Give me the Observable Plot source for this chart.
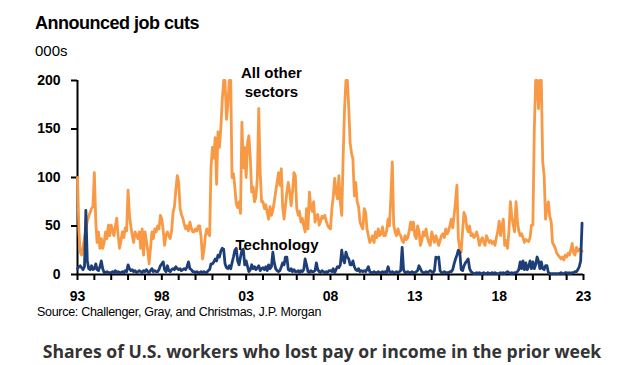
<!DOCTYPE html>
<html><head><meta charset="utf-8">
<script src="https://cdn.jsdelivr.net/npm/d3@7"></script>
<script src="https://cdn.jsdelivr.net/npm/@observablehq/plot@0.6"></script>
<style>
html,body{margin:0;padding:0;background:#fff;}
body{width:644px;height:365px;position:relative;overflow:hidden;font-family:"Liberation Sans",Arial,sans-serif;color:#000;}
#title{position:absolute;left:35px;top:13px;font-weight:bold;font-size:18px;letter-spacing:-0.5px;white-space:nowrap;}
#unit{position:absolute;left:35px;top:42px;font-size:15px;white-space:nowrap;}
#chart{position:absolute;left:0;top:60px;}
#source{position:absolute;left:37px;top:305px;font-size:12.5px;letter-spacing:-0.3px;white-space:nowrap;}
#bottom{position:absolute;left:0;width:644px;text-align:center;top:339px;font-family:"Open Sans",sans-serif;font-weight:700;font-size:17.6px;color:#333;white-space:nowrap;}
</style>
</head><body>
<div id="title">Announced job cuts</div>
<div id="unit">000s</div>
<div id="chart"></div>
<div id="source">Source: Challenger, Gray, and Christmas, J.P. Morgan</div>
<div id="bottom">Shares of U.S. workers who lost pay or income in the prior week</div>
<script>
// Monthly values, thousands, Jan 1993 - Dec 2022 (one row per year)
const startYear = 1993;
const allOtherSectors = [
  100, 45, 23, 20, 28, 38, 47, 55, 60, 64, 68, 70,
  105, 55, 33, 44, 27, 37, 27, 33, 44, 37, 51, 40,
  51, 45, 40, 50, 58, 40, 27, 35, 44, 38, 48, 45,
  87, 61, 50, 40, 33, 44, 40, 37, 44, 27, 47, 20,
  44, 35, 25, 11, 27, 44, 37, 47, 44, 50, 47, 61,
  57, 45, 30, 40, 44, 40, 37, 45, 64, 70, 87, 102,
  95, 68, 62, 58, 52, 47, 50, 45, 54, 48, 44, 44,
  47, 45, 50, 50, 38, 16, 25, 40, 47, 42, 40, 110,
  131, 120, 141, 93, 147, 131, 150, 179, 250, 215, 160, 175,
  210, 205, 100, 104, 90, 73, 69, 75, 63, 157, 110, 131,
  100, 136, 143, 120, 85, 90, 75, 80, 100, 171, 105, 75,
  75, 68, 72, 64, 57, 70, 61, 66, 75, 85, 95, 105,
  92, 109, 70, 57, 71, 85, 95, 85, 71, 85, 105, 102,
  68, 61, 65, 54, 58, 50, 44, 68, 47, 85, 70, 65,
  75, 54, 60, 62, 51, 55, 60, 58, 61, 55, 51, 48,
  47, 68, 80, 99, 85, 78, 102, 75, 61, 120, 171, 205,
  210, 171, 136, 125, 119, 81, 95, 75, 70, 54, 50, 47,
  68, 64, 47, 40, 33, 36, 40, 33, 44, 38, 47, 40,
  42, 49, 40, 40, 45, 57, 50, 80, 116, 51, 44, 40,
  47, 42, 40, 35, 33, 40, 36, 38, 45, 54, 46, 54,
  40, 37, 50, 45, 30, 35, 44, 40, 47, 38, 33, 30,
  44, 38, 33, 40, 36, 30, 35, 40, 42, 38, 47, 42,
  45, 51, 57, 48, 61, 75, 92, 37, 27, 23, 45, 64,
  60, 48, 44, 50, 40, 42, 38, 40, 44, 38, 30, 35,
  38, 33, 30, 40, 36, 33, 35, 32, 34, 30, 38, 44,
  55, 40, 50, 57, 30, 35, 27, 45, 75, 60, 51, 44,
  75, 55, 45, 40, 42, 38, 33, 36, 35, 34, 38, 51,
  51, 150, 230, 220, 171, 230, 210, 116, 102, 57, 68, 75,
  60, 54, 33, 30, 27, 22, 20, 18, 16, 18, 15, 20,
  18, 22, 20, 25, 32, 22, 20, 28, 24, 26, 25, 24
];
const technology = [
  6, 8, 9, 7, 5, 8, 66, 14, 6, 5, 9, 5,
  6, 11, 5, 4, 8, 14, 6, 2, 2, 3, 2, 2,
  2, 3, 2, 4, 2, 3, 2, 2, 3, 2, 4, 3,
  10, 6, 4, 5, 3, 4, 2, 3, 4, 3, 2, 4,
  3, 5, 3, 2, 4, 6, 3, 4, 3, 3, 5, 9,
  11, 13, 5, 3, 9, 4, 3, 5, 6, 5, 8, 6,
  5, 6, 4, 5, 6, 5, 8, 13, 6, 5, 3, 3,
  2, 3, 2, 2, 3, 2, 3, 2, 2, 4, 5, 11,
  11, 13, 16, 14, 20, 18, 24, 27, 26, 11, 7, 6,
  9, 6, 12, 18, 25, 27, 14, 10, 18, 25, 26, 10,
  14, 8, 3, 5, 10, 6, 8, 5, 7, 9, 4, 6,
  7, 5, 8, 4, 10, 6, 8, 23, 12, 6, 4, 3,
  4, 8, 12, 10, 18, 18, 5, 4, 6, 3, 5, 3,
  3, 4, 2, 4, 3, 5, 16, 10, 3, 2, 4, 3,
  3, 4, 12, 5, 3, 2, 4, 3, 2, 3, 2, 4,
  4, 3, 6, 2, 5, 8, 7, 10, 25, 15, 12, 23,
  18, 16, 10, 10, 14, 8, 5, 4, 6, 3, 4, 3,
  4, 3, 5, 8, 3, 2, 2, 3, 2, 2, 3, 2,
  2, 3, 2, 3, 2, 8, 3, 2, 3, 2, 2, 3,
  2, 3, 4, 28, 5, 2, 2, 3, 2, 2, 3, 2,
  2, 3, 4, 9, 6, 3, 2, 2, 3, 2, 3, 4,
  3, 2, 4, 18, 17, 18, 4, 2, 2, 3, 2, 2,
  2, 3, 3, 5, 11, 16, 20, 25, 23, 5, 4, 9,
  12, 14, 16, 6, 3, 2, 1, 1, 2, 1, 2, 1,
  1, 2, 1, 1, 2, 1, 1, 2, 1, 2, 1, 1,
  1, 2, 1, 2, 1, 2, 3, 2, 1, 2, 1, 2,
  2, 3, 5, 13, 6, 14, 5, 12, 5, 8, 14, 6,
  13, 6, 10, 18, 14, 6, 13, 6, 5, 9, 9, 2,
  1, 1, 1, 1, 1, 1, 1, 1, 2, 1, 1, 2,
  2, 1, 2, 1, 2, 2, 3, 3, 5, 8, 14, 53
];
const yTicks = [0, 50, 100, 150, 200];
const xLabelYears = [1993, 1998, 2003, 2008, 2013, 2018, 2023];
const seriesLabels = ["All other\nsectors", "Technology"];

const monthDate = i => new Date(Date.UTC(startYear + Math.floor(i / 12), i % 12, 1));
const other = allOtherSectors.map((v, i) => ({date: monthDate(i), value: v}));
const tech = technology.map((v, i) => ({date: monthDate(i), value: v}));
const yearTicks = d3.range(1993, 2024).map(y => new Date(Date.UTC(y, 0, 1)));
const x0 = new Date(Date.UTC(1993, 0, 1));
const x1 = new Date(Date.UTC(2023, 0, 1));

const labels = [
  {date: new Date(Date.UTC(2004, 6, 1)), value: 199, text: seriesLabels[0]},
  {date: new Date(Date.UTC(2004, 10, 1)), value: 32, text: seriesLabels[1]}
];

const chart = Plot.plot({
  width: 644,
  height: 250,
  marginLeft: 77,
  marginRight: 61,
  marginTop: 20,
  marginBottom: 36,
  style: {fontFamily: '"Liberation Sans", Arial, sans-serif', background: "#fff", overflow: "visible", color: "#000"},
  x: {type: "utc", domain: [x0, x1]},
  y: {domain: [0, 200], clamp: true},
  marks: [
    Plot.ruleX([x0], {y1: 0, y2: 200, stroke: "#000", strokeWidth: 2}),
    Plot.ruleY([0], {stroke: "#000", strokeWidth: 2}),
    Plot.axisY({ticks: yTicks, tickSize: 6, tickPadding: 11, strokeWidth: 2, fontSize: 14, fontWeight: "bold", label: null, tickFormat: d => String(d)}),
    Plot.axisX({ticks: yearTicks, tickSize: 6, tickPadding: 11, strokeWidth: 2, fontSize: 14, fontWeight: "bold", label: null,
      tickFormat: d => xLabelYears.includes(d.getUTCFullYear()) ? String(d.getUTCFullYear()).slice(2) : ""}),
    Plot.lineY(other, {x: "date", y: "value", stroke: "#F89A45", strokeWidth: 2.8, strokeLinejoin: "round"}),
    Plot.lineY(tech, {x: "date", y: "value", stroke: "#1E3E78", strokeWidth: 2.8, strokeLinejoin: "round"}),
    Plot.text(labels, {x: "date", y: "value", text: "text", fontSize: 15, fontWeight: "bold", lineHeight: 1.3, fill: "#000"})
  ]
});
document.getElementById("chart").appendChild(chart);
</script>
</body></html>
